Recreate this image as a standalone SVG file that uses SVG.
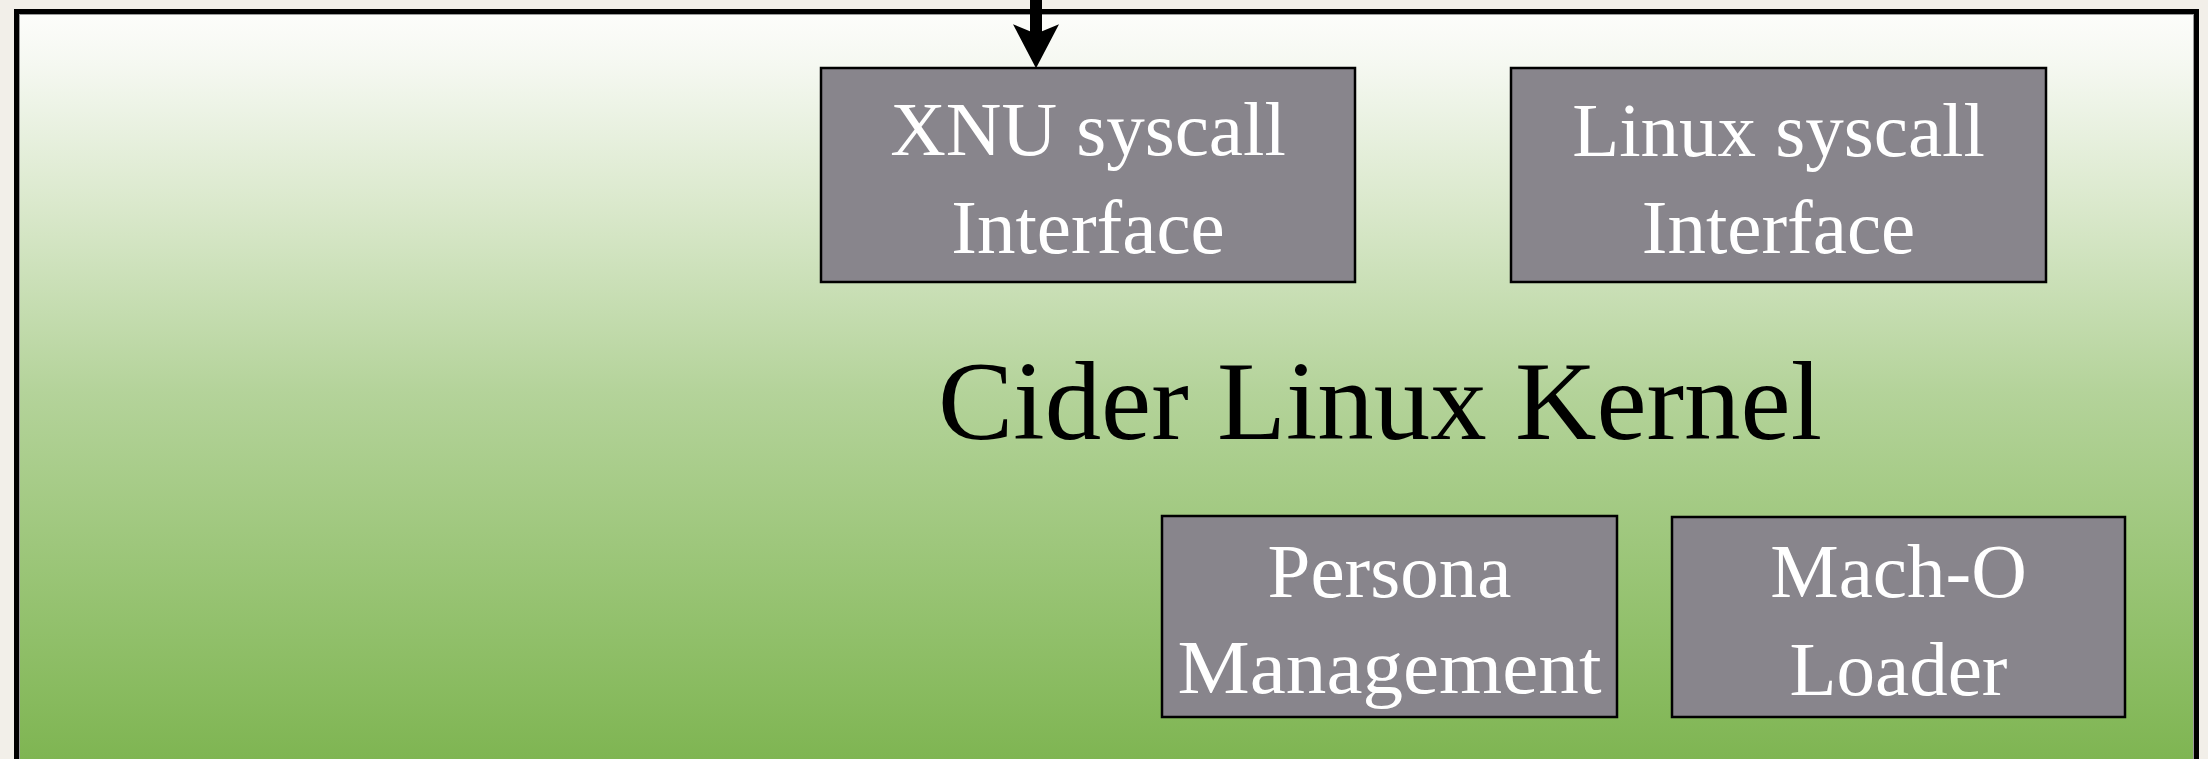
<svg xmlns="http://www.w3.org/2000/svg" width="2208" height="759" viewBox="0 0 2208 759">
<style>
.box{fill:#88858c;stroke:#000;stroke-width:2.5}
.lbl{font-family:"Liberation Serif","Times New Roman",serif;font-size:77px;fill:#fff;text-anchor:middle}
.title{font-family:"Liberation Serif","Times New Roman",serif;font-size:112px;fill:#000;text-anchor:middle}
</style>
<defs>
<linearGradient id="bg" x1="0" y1="0" x2="0" y2="1">
<stop offset="0" stop-color="#fdfdfb"/>
<stop offset="0.07" stop-color="#f5f8f1"/>
<stop offset="0.25" stop-color="#dbe9cd"/>
<stop offset="0.5" stop-color="#b4d39a"/>
<stop offset="0.8" stop-color="#93c16d"/>
<stop offset="1" stop-color="#7db450"/>
</linearGradient>
<marker id="ah" markerUnits="userSpaceOnUse" markerWidth="46" markerHeight="46" viewBox="0 0 44 44" refX="15" refY="22" orient="auto">
<path d="M0,0 L42,22 L0,44 L9,22 Z" fill="#000"/>
</marker>
</defs>
<rect x="0" y="0" width="2208" height="759" fill="#f2efe9"/>
<g id="kernel">
<rect x="16.5" y="11.5" width="2180" height="760" fill="url(#bg)" stroke="#000" stroke-width="5"/>
<rect x="19.5" y="14.5" width="2174" height="760" fill="none" stroke="#9a9a9a" stroke-width="1"/>
<text class="title" x="1380" y="439" textLength="884" lengthAdjust="spacingAndGlyphs">Cider Linux Kernel</text>
</g>
<g id="xnu">
<rect class="box" x="821" y="68" width="534" height="214"/>
<text class="lbl" x="1088" y="155">XNU syscall</text>
<text class="lbl" x="1088" y="253">Interface</text>
</g>
<g id="linux">
<rect class="box" x="1511" y="68" width="535" height="214"/>
<text class="lbl" x="1778.5" y="156">Linux syscall</text>
<text class="lbl" x="1778.5" y="253">Interface</text>
</g>
<g id="persona">
<rect class="box" x="1162" y="516" width="455" height="201"/>
<text class="lbl" x="1389.5" y="597">Persona</text>
<text class="lbl" x="1389.5" y="693" textLength="424" lengthAdjust="spacingAndGlyphs">Management</text>
</g>
<g id="macho">
<rect class="box" x="1672" y="517" width="453" height="200"/>
<text class="lbl" x="1898.5" y="597">Mach-O</text>
<text class="lbl" x="1898.5" y="695">Loader</text>
</g>
<g id="connectors">
<line x1="1036" y1="-5" x2="1036" y2="40" stroke="#000" stroke-width="12" marker-end="url(#ah)"/>
</g>
</svg>
